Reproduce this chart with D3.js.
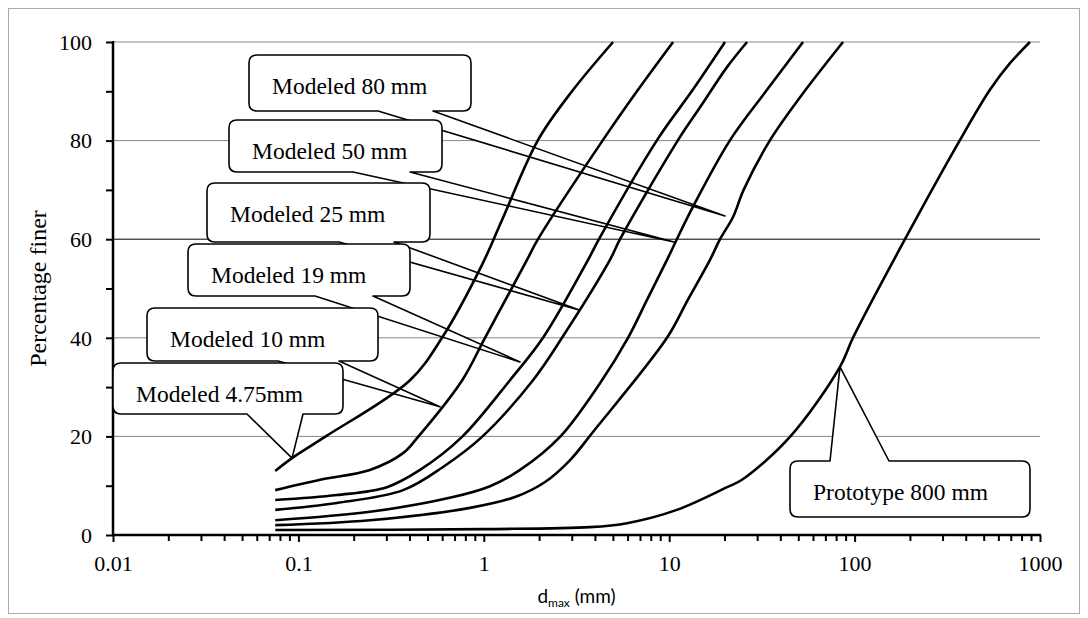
<!DOCTYPE html>
<html>
<head>
<meta charset="utf-8">
<script src="https://cdn.jsdelivr.net/npm/d3@7"></script>
<style>
    body { margin: 0; background: #fff; }
    .tick-label { font-family: "Liberation Serif", "Times New Roman", serif; font-size: 22px; fill: #000; }
    .call-text { font-family: "Liberation Serif", "Times New Roman", serif; font-size: 23.5px; fill: #000; }
</style>
</head>
<body>
<div id="chart"></div>
<script>
// gradation curves: percentage finer vs particle size (log scale)

var seriesNames = ["Modeled 4.75mm", "Modeled 10 mm", "Modeled 19 mm", "Modeled 25 mm",
    "Modeled 50 mm", "Modeled 80 mm", "Prototype 800 mm"];

// sizes (mm) and percentage finer for each curve
var size475 = [0.075, 0.0924, 0.139, 0.400, 0.595, 0.978, 1.254, 1.96, 2.99, 4.98];
var pass475 = [13.0, 15.6, 19.9, 31.4, 40.0, 54.8, 63.9, 80.1, 90.0, 100];

var size10 = [0.075, 0.131, 0.243, 0.367, 0.442, 0.765, 1.015, 1.71, 1.96, 4.39, 6.79, 10.5];
var pass10 = [9.1, 11.2, 13.2, 16.6, 19.9, 31.4, 40.0, 55.8, 60.0, 80.1, 90.3, 100];

var size19 = [0.075, 0.1615, 0.300, 0.453, 0.763, 1.384, 2.086, 3.65, 4.18, 8.60, 13.4, 20.0];
var pass19 = [7.1, 8.1, 9.7, 13.2, 19.9, 31.4, 40.0, 55.8, 60.0, 80.1, 90.3, 100];

var size25 = [0.075, 0.1615, 0.367, 0.6025, 0.978, 1.842, 2.641, 4.79, 5.43, 11.16, 14.7, 20.5, 26.3];
var pass25 = [5.1, 6.5, 9.1, 13.8, 19.9, 31.4, 40.0, 55.8, 60.0, 80.1, 86.8, 94.9, 100];

var size50 = [0.075, 0.243, 0.682, 1.08, 1.568, 2.576, 4.235, 5.995, 7.59, 9.73, 11.0, 13.4, 21.3, 33.7, 52.7];
var pass50 = [3.0, 4.7, 7.7, 9.9, 13.2, 19.9, 30.8, 40.0, 47.7, 55.8, 60.0, 66.5, 80.1, 90.3, 100];

var size80 = [0.075, 0.243, 0.842, 1.474, 2.14, 2.92, 3.88, 9.73, 12.6, 16.6, 18.8, 22.1, 25.2, 35.0, 50.8, 86.6];
var pass80 = [2.0, 3.0, 5.5, 7.7, 10.75, 15.2, 20.9, 40.0, 47.7, 55.8, 60.0, 64.5, 70.0, 80.1, 88.8, 100];

var size800 = [0.075, 1.0, 3.74, 5.92, 11.0, 20.5, 24.7, 44.8, 83.4, 98.0, 187, 370, 537, 689, 883];
var pass800 = [1.0, 1.2, 1.6, 2.4, 5.1, 9.7, 11.2, 19.9, 34.1, 40.0, 60.0, 80.1, 90.3, 95.7, 100];

// where each callout points (size mm, percent finer)
var tipSize = [0.0924, 0.580, 1.568, 3.30, 10.75, 20.0, 83.4];
var tipPass = [15.6, 26.0, 35.1, 45.6, 59.4, 64.7, 34.1];

var xTicks = [0.01, 0.1, 1, 10, 100, 1000];
var yTicks = [0, 20, 40, 60, 80, 100];

// * layout
var width = 1088, height = 618;
var plotLeft = 113, plotRight = 1040, plotTop = 42, plotBottom = 535;

var svg = d3.select("#chart")
    .append("svg")
    .attr("width", width)
    .attr("height", height);

// dotted frame
svg.append("rect")
    .attr("x", 8.5).attr("y", 8.5)
    .attr("width", 1071).attr("height", 605)
    .attr("fill", "none")
    .attr("stroke", "#555")
    .attr("stroke-width", 1)
    .attr("stroke-dasharray", "1,1");

var x = d3.scaleLog().domain([0.01, 1000]).range([plotLeft, plotRight]);
var y = d3.scaleLinear().domain([0, 100]).range([plotBottom, plotTop]);

// gridlines
svg.selectAll(".grid")
    .data(yTicks.filter(function(d){ return d > 0; }))
    .enter()
    .append("line")
    .attr("x1", plotLeft).attr("x2", plotRight)
    .attr("y1", function(d){ return y(d); })
    .attr("y2", function(d){ return y(d); })
    .attr("stroke", function(d){ return d == 60 ? "#000" : "#868686"; })
    .attr("stroke-width", 1);

// y axis
var yAxis = d3.axisLeft(y)
    .tickValues(d3.range(0, 101, 10))
    .tickSize(7)
    .tickFormat(function(d){ return d % 20 == 0 ? d : ""; });

var gy = svg.append("g")
    .attr("transform", "translate(" + plotLeft + ",0)")
    .call(yAxis);
gy.select(".domain").remove();
gy.selectAll(".tick line").attr("stroke", "#000").attr("stroke-width", 2);
gy.selectAll(".tick text")
    .attr("class", "tick-label")
    .attr("x", -21)
    .attr("dy", "0.33em")
    .attr("font-size", null)
    .attr("font-family", null);

svg.append("line")
    .attr("x1", plotLeft).attr("x2", plotLeft)
    .attr("y1", plotTop - 1).attr("y2", plotBottom + 1)
    .attr("stroke", "#000").attr("stroke-width", 2.5);

// x axis
var minor = [];
xTicks.forEach(function(t, i){
    if (i < xTicks.length - 1) {
        for (var k = 2; k < 10; k++) minor.push(t * k);
    }
});

var xAxis = d3.axisBottom(x)
    .tickValues(xTicks)
    .tickSize(7)
    .tickFormat(function(d){ return d3.format("~g")(d); });

var gx = svg.append("g")
    .attr("transform", "translate(0," + plotBottom + ")")
    .call(xAxis);
gx.select(".domain").remove();
gx.selectAll(".tick line").attr("stroke", "#000").attr("stroke-width", 2);
gx.selectAll(".tick text")
    .attr("class", "tick-label")
    .attr("y", 20)
    .attr("dy", "0.71em")
    .attr("font-size", null)
    .attr("font-family", null);

svg.selectAll(".minor")
    .data(minor)
    .enter()
    .append("line")
    .attr("x1", function(d){ return x(d); })
    .attr("x2", function(d){ return x(d); })
    .attr("y1", plotBottom)
    .attr("y2", plotBottom + 6)
    .attr("stroke", "#000")
    .attr("stroke-width", 2);

svg.append("line")
    .attr("x1", plotLeft - 1).attr("x2", plotRight + 1)
    .attr("y1", plotBottom).attr("y2", plotBottom)
    .attr("stroke", "#000").attr("stroke-width", 2.5);

// axis titles
svg.append("text")
    .attr("class", "tick-label")
    .style("font-size", "24px")
    .attr("transform", "translate(46," + ((plotTop + plotBottom) / 2) + ") rotate(-90)")
    .attr("text-anchor", "middle")
    .text("Percentage finer");

var xt = svg.append("text")
    .attr("x", (plotLeft + plotRight) / 2)
    .attr("y", 603)
    .attr("text-anchor", "middle")
    .attr("font-family", "Lato, 'Open Sans', sans-serif")
    .attr("font-size", "19px");
xt.append("tspan").text("d");
xt.append("tspan").attr("font-size", "12px").attr("dy", 4).text("max");
xt.append("tspan").attr("dy", -4).text(" (mm)");

// callouts (drawn top to bottom so lower boxes cover upper wedges)
var boxes = [
    {i: 5, bx: 249, by: 55,  bw: 222, bh: 56, b0: 378, b1: 433, side: "bottom"},
    {i: 4, bx: 229, by: 120, bw: 213, bh: 52, b0: 353, b1: 410, side: "bottom"},
    {i: 3, bx: 207, by: 183, bw: 223, bh: 59, b0: 339, b1: 394, side: "bottom"},
    {i: 2, bx: 188, by: 244, bw: 222, bh: 52, b0: 315, b1: 373, side: "bottom"},
    {i: 1, bx: 147, by: 308, bw: 231, bh: 53, b0: 278, b1: 339, side: "bottom"},
    {i: 0, bx: 113, by: 363, bw: 230, bh: 51, b0: 247, b1: 303, side: "bottom"},
    {i: 6, bx: 790, by: 461, bw: 240, bh: 56, b0: 830, b1: 889, side: "top"}
];

function calloutPath(b) {
    var r = 8, x0 = b.bx, y0 = b.by, x1 = b.bx + b.bw, y1 = b.by + b.bh;
    var tx = x(tipSize[b.i]), ty = y(tipPass[b.i]);
    var p = d3.path();
    p.moveTo(x0 + r, y0);
    if (b.side == "top") {
        p.lineTo(b.b0, y0); p.lineTo(tx, ty); p.lineTo(b.b1, y0);
    }
    p.lineTo(x1 - r, y0);
    p.quadraticCurveTo(x1, y0, x1, y0 + r);
    p.lineTo(x1, y1 - r);
    p.quadraticCurveTo(x1, y1, x1 - r, y1);
    if (b.side == "bottom") {
        p.lineTo(b.b1, y1); p.lineTo(tx, ty); p.lineTo(b.b0, y1);
    }
    p.lineTo(x0 + r, y1);
    p.quadraticCurveTo(x0, y1, x0, y1 - r);
    p.lineTo(x0, y0 + r);
    p.quadraticCurveTo(x0, y0, x0 + r, y0);
    p.closePath();
    return p.toString();
}

var calls = svg.selectAll(".callout")
    .data(boxes)
    .enter()
    .append("g")
    .attr("class", "callout");

calls.append("path")
    .attr("d", calloutPath)
    .attr("fill", "#fff")
    .attr("stroke", "#000")
    .attr("stroke-width", 1.6)
    .attr("stroke-linejoin", "round");

calls.append("text")
    .attr("class", "call-text")
    .attr("x", function(d){ return d.bx + 23; })
    .attr("y", function(d){ return d.by + 39; })
    .text(function(d){ return seriesNames[d.i]; });

// curves
var sizes = [size475, size10, size19, size25, size50, size80, size800];
var passes = [pass475, pass10, pass19, pass25, pass50, pass80, pass800];

var line = d3.line()
    .x(function(d){ return x(d[0]); })
    .y(function(d){ return y(d[1]); })
    .curve(d3.curveCatmullRom.alpha(0.5));

svg.selectAll(".curve")
    .data(sizes.map(function(s, k){ return d3.zip(s, passes[k]); }))
    .enter()
    .append("path")
    .attr("class", "curve")
    .attr("d", line)
    .attr("fill", "none")
    .attr("stroke", "#000")
    .attr("stroke-width", 2.6)
    .attr("stroke-linejoin", "round");
</script>
</body>
</html>
